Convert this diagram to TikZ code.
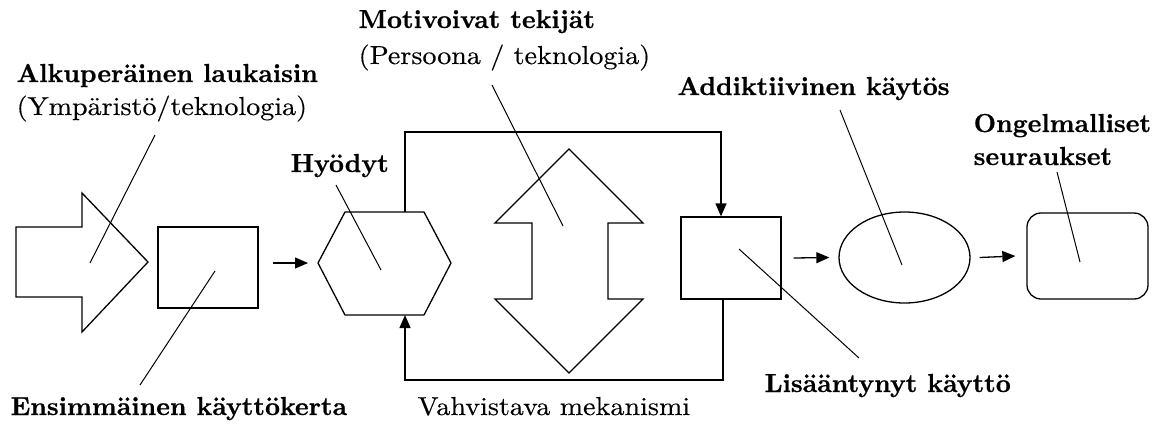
\documentclass[tikz,border=0pt]{standalone}
\usetikzlibrary{arrows.meta,shapes.geometric}
\font\myregfont="[lmroman10-regular]:mapping=tex-text;extend=1.08;embolden=0.3" at 26pt
\font\myboldfont="[lmroman10-bold]:mapping=tex-text;embolden=0.6" at 26pt
\begin{document}
\begin{tikzpicture}[x=1pt,y=-1pt,
  every path/.style={line width=1.3pt},
  shp/.style={draw,line width=1.3pt,inner sep=0pt},
  arr/.style={-{Triangle[length=13pt,width=11pt]},line width=1.3pt},
  lead/.style={line width=1pt},
  bl/.style={anchor=base west,inner sep=0pt,font=\myboldfont},
  rg/.style={anchor=base west,inner sep=0pt,font=\myregfont}]
\useasboundingbox (0,0) rectangle (1161,424);
% shapes
\draw (16,227) -- (82,227) -- (82,193) -- (148,262) -- (82,332) -- (82,297) -- (16,297) -- cycle;
\node[shp,minimum width=100pt,minimum height=81pt] (box1) at (208,267.5) {};
\coordinate (hW) at (318,263);
\coordinate (hN) at (405,212);
\coordinate (hS) at (405,315);
\draw (318,263) -- (345,212) -- (424,212) -- (451,263) -- (424,315) -- (345,315) -- cycle;
\draw (569,149) -- (643,223) -- (608,223) -- (608,299) -- (643,299) -- (569,373) -- (495,299) -- (532,299) -- (532,223) -- (495,223) -- cycle;
\node[shp,minimum width=100pt,minimum height=82pt] (box2) at (731,258) {};
\node[shp,ellipse,minimum width=131pt,minimum height=91pt] (ell) at (904.5,257.5) {};
\node[shp,rounded corners=14pt,minimum width=121pt,minimum height=86pt] (rr) at (1087.5,256) {};
% connectors
\draw[arr] ([xshift=14pt]box1.east |- hW) -- ([xshift=-10pt]hW);
\draw[arr] ([xshift=12pt]box2.east) -- ([xshift=-9pt]ell.west);
\draw[arr] ([xshift=9pt]ell.east) -- ([xshift=-11pt]rr.west);
\draw[arr] (hN) -- (405,132) -| ([xshift=-10pt]box2.north);
\draw[arr] ([xshift=-8pt]box2.south) |- (405,380) -- (hS);
% texts
\node[bl] (t1) at (16,82) {Alkuperäinen laukaisin};
\node[rg] (t1b) at (16,115) {(Ympäristö/teknologia)};
\node[bl] (t2) at (290,172) {Hyödyt};
\node[bl] (t3) at (358,28) {Motivoivat tekijät};
\node[rg] (t3b) at (358,64) {(Persoona / teknologia)};
\node[bl] (t4) at (677,95) {Addiktiivinen käytös};
\node[bl] (t5) at (973,132) {Ongelmalliset};
\node[bl] (t5b) at (973,165) {seuraukset};
\node[bl] (t6) at (10,415) {Ensimmäinen käyttökerta};
\node[rg] (t7) at (417,415) {Vahvistava mekanismi};
\node[bl] (t8) at (764,392) {Lisääntynyt käyttö};
% leader lines
\draw[lead] (155,135) -- (90,263);
\draw[lead] (336,185) -- (381,270);
\draw[lead] (215,271) -- (140,385);
\draw[lead] (492,85) -- (563,226);
\draw[lead] (840,110) -- (902,265);
\draw[lead] (1057,172) -- (1080,262);
\draw[lead] (739,249) -- (859,358);
\end{tikzpicture}
\end{document}
